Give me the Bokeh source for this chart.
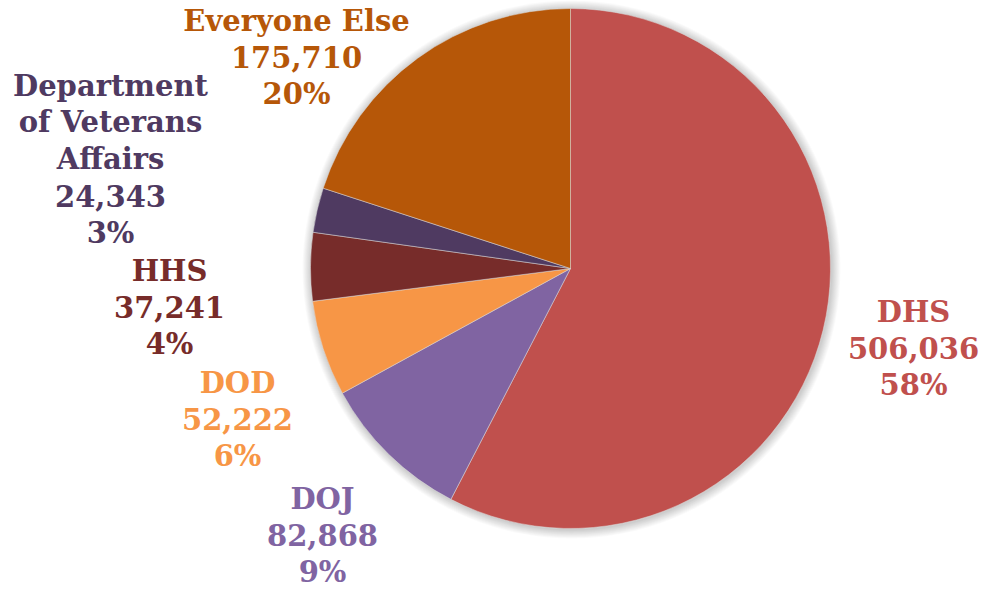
import numpy as np
from bokeh.plotting import figure
from bokeh.models import ColumnDataSource, Range1d
from bokeh.core.properties import value
from bokeh.embed import file_html
from bokeh.resources import INLINE

# ---- data ----
agencies = ["DHS", "DOJ", "DOD", "HHS", "Department\nof Veterans\nAffairs", "Everyone Else"]
counts = [506036, 82868, 52222, 37241, 24343, 175710]
pct_labels = ["58%", "9%", "6%", "4%", "3%", "20%"]
count_labels = ["506,036", "82,868", "52,222", "37,241", "24,343", "175,710"]
colors = ["#C0504D", "#8064A2", "#F79646", "#772C2A", "#4F3A61", "#B65708"]

# ---- layout (pixel positions of label block tops, centers) ----
W, H = 985, 590
cx, cy, R = 570, 268, 260
label_x = [913, 322, 237, 169, 110, 296]
label_top = [311, 498, 382, 270, 85, 20]
line_step = 36.8

p = figure(width=W, height=H, output_backend="svg", toolbar_location=None,
           x_range=Range1d(0, W), y_range=Range1d(0, H), min_border=0)
p.axis.visible = False
p.grid.visible = False
p.outline_line_color = None
p.background_fill_color = "white"

# soft shadow
for i in range(10, 0, -1):
    p.circle(x=cx + 1, y=H - cy - 1, radius=R + i * 0.9, fill_color="black",
             fill_alpha=0.018, line_color=None)

total = float(sum(counts))
fracs = np.array(counts) / total
ends = np.pi / 2 - np.cumsum(fracs) * 2 * np.pi
starts = np.concatenate([[np.pi / 2], ends[:-1]])

src = ColumnDataSource(dict(start=starts, end=ends, color=colors))
p.wedge(x=cx, y=H - cy, radius=R, start_angle="start", end_angle="end",
        direction="clock", fill_color="color", line_color="#dddddd",
        line_width=0.5, source=src)

xs, ys, txt, cols = [], [], [], []
for i in range(len(counts)):
    lines = agencies[i].split("\n") + [count_labels[i], pct_labels[i]]
    for j, ln in enumerate(lines):
        xs.append(label_x[i])
        ys.append(H - (label_top[i] + j * line_step))
        txt.append(ln)
        cols.append(colors[i])

tsrc = ColumnDataSource(dict(x=xs, y=ys, text=txt, color=cols))
p.text(x="x", y="y", text="text", text_color="color", source=tsrc,
       text_font=value("DejaVu Serif"), text_font_style="bold",
       text_font_size="29px", text_align="center", text_baseline="middle")

open("out.html", "w").write(file_html(p, INLINE))
